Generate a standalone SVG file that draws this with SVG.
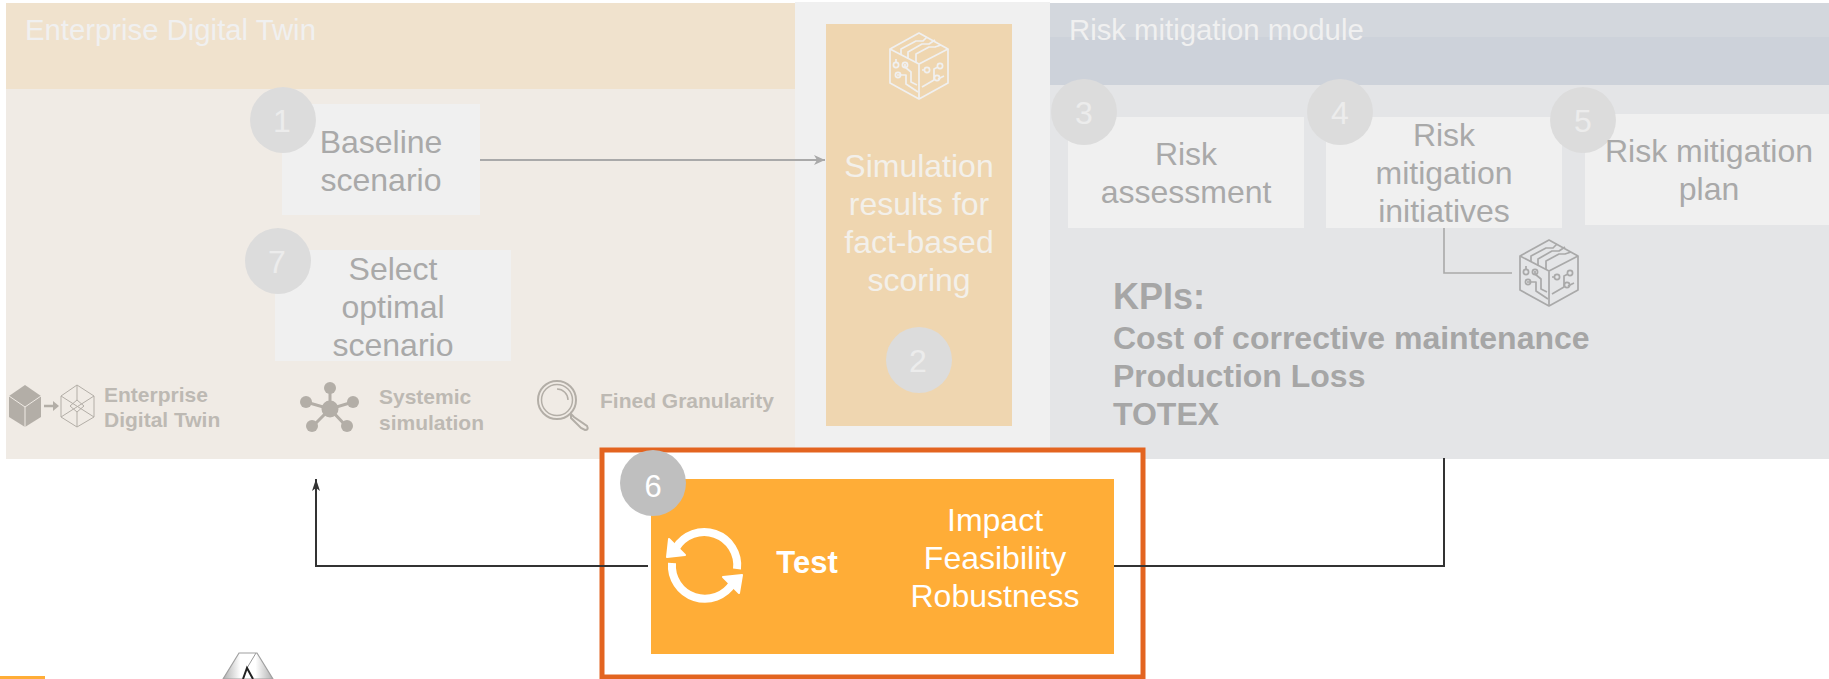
<svg xmlns="http://www.w3.org/2000/svg" width="1829" height="679" viewBox="0 0 1829 679">
<style>
text{font-family:"Liberation Sans",Arial,sans-serif}
.box{fill:#f0f0f0}
.num{fill:#dcdcdc}
.n{font-size:32px;fill:#ececec;text-anchor:middle}
.t{font-size:32px;fill:#a9a9a9;text-anchor:middle}
.s{font-size:32px;fill:#f3f0ea;text-anchor:middle}
.h{font-size:29.3px;fill:#f0f0f0}
.kpi{font-weight:bold;fill:#a6a6a6}
.leg{font-size:21px;font-weight:bold;fill:#bdb9b3}
.w{font-size:32px;fill:#fff;text-anchor:middle}
.ic{fill:none;stroke:#b3aea7}
</style>
<defs>
<marker id="ag" markerWidth="12" markerHeight="12" refX="11" refY="5" orient="auto" markerUnits="userSpaceOnUse"><path d="M0,0L11,5L0,10L3,5Z" fill="#a9a9a9"/></marker>
<marker id="ad" markerWidth="12" markerHeight="14" refX="12" refY="4" orient="auto" markerUnits="userSpaceOnUse"><path d="M0,0L12,4L0,8L3,4Z" fill="#333"/></marker>
<linearGradient id="lg" x1="0" y1="0" x2="1" y2="0"><stop offset="0" stop-color="#b0b0b0"/><stop offset=".35" stop-color="#fff"/><stop offset=".65" stop-color="#fff"/><stop offset="1" stop-color="#b0b0b0"/></linearGradient>
<symbol id="cube" viewBox="-30 -35 60 70" width="60" height="70" overflow="visible">
<g fill="none" stroke="currentColor" stroke-width="1.7" stroke-linejoin="round">
<path d="M0,-33L29,-17V17L0,33L-29,17V-17Z"/>
<path d="M-29,-17L0,-2L29,-17M0,-2V33"/>
<path d="M-18,-11V-17L-3,-25H4L8,-29M-11,-7V-14L3,-22H10L16,-26M-3,-3V-12L10,-19H16L22,-21"/>
<path d="M-23,-7V-3M-14,-2L-14,1L-8,6V16L-2,19M-22,9H-13L-13,18L-1,26"/>
<circle cx="-23" cy="-1" r="2.6"/><circle cx="-14" cy="-1" r="2.6"/><circle cx="-21" cy="9" r="2.6"/>
<path d="M3,4H6M3,21L15,14V3L19,1M19,13L25,10"/>
<circle cx="8" cy="4" r="2.6"/><circle cx="21" cy="0" r="2.6"/><circle cx="18" cy="12" r="2.6"/>
</g>
</symbol>
</defs>
<rect width="1829" height="679" fill="#fff"/>
<rect x="795" y="2" width="255" height="457" fill="#f0f0f0"/>

<g id="enterprise-panel">
<rect x="6" y="3" width="789" height="456" fill="#f0ebe5"/>
<rect x="6" y="3" width="789" height="86" fill="#f0e2cd"/>
<text class="h" x="25" y="40">Enterprise Digital Twin</text>
</g>
<g id="risk-panel">
<rect x="1050" y="3" width="779" height="456" fill="#e4e5e7"/>
<rect x="1050" y="3" width="779" height="82" fill="#cdd2da"/>
<rect x="1050" y="3" width="779" height="34" fill="#d3d7dd"/>
<text class="h" x="1069" y="40">Risk mitigation module</text>
</g>

<g id="connectors" fill="none">
<path d="M480,160H825" stroke="#a9a9a9" stroke-width="2" marker-end="url(#ag)"/>
<path d="M1444,228V273H1512" stroke="#a9a9a9" stroke-width="1.6"/>
</g>

<g id="node-1"><rect class="box" x="282" y="104" width="198" height="111"/><circle class="num" cx="283" cy="120" r="33"/><text class="n" x="282" y="132">1</text><text class="t" x="381" y="153">Baseline</text><text class="t" x="381" y="191">scenario</text></g>
<g id="node-7"><rect class="box" x="275" y="250" width="236" height="111"/><circle class="num" cx="278" cy="261" r="33"/><text class="n" x="277" y="273">7</text><text class="t" x="393" y="280">Select</text><text class="t" x="393" y="318">optimal</text><text class="t" x="393" y="356">scenario</text></g>
<g id="node-2"><rect x="826" y="24" width="186" height="402" fill="#efd6b0"/><use href="#cube" x="889" y="31" color="#f0f0f0"/><text class="s" x="919" y="177">Simulation</text><text class="s" x="919" y="215">results for</text><text class="s" x="919" y="253">fact-based</text><text class="s" x="919" y="291">scoring</text><circle class="num" cx="919" cy="360" r="33"/><text class="n" x="918" y="372">2</text></g>
<g id="node-3"><rect class="box" x="1068" y="117" width="236" height="111"/><circle class="num" cx="1084" cy="112" r="33"/><text class="n" x="1084" y="124">3</text><text class="t" x="1186" y="165">Risk</text><text class="t" x="1186" y="203">assessment</text></g>
<g id="node-4"><rect class="box" x="1326" y="117" width="236" height="111"/><circle class="num" cx="1340" cy="112" r="33"/><text class="n" x="1340" y="124">4</text><text class="t" x="1444" y="146">Risk</text><text class="t" x="1444" y="184">mitigation</text><text class="t" x="1444" y="222">initiatives</text></g>
<g id="node-5"><rect class="box" x="1585" y="114" width="244" height="111"/><circle class="num" cx="1583" cy="120" r="33"/><text class="n" x="1583" y="132">5</text><text class="t" x="1709" y="162">Risk mitigation</text><text class="t" x="1709" y="200">plan</text></g>
<g id="kpis"><use href="#cube" x="1519" y="238" color="#a9a9a9"/><text class="kpi" x="1113" y="309" font-size="36">KPIs:</text><text class="kpi" x="1113" y="349" font-size="32">Cost of corrective maintenance</text><text class="kpi" x="1113" y="387" font-size="32">Production Loss</text><text class="kpi" x="1113" y="425" font-size="32">TOTEX</text></g>

<g id="legend-twin">
<path d="M25,385L41,396V417L25,427L9,417V396Z" fill="#b3aea7"/>
<path d="M9,396L25,407L41,396M25,407V427" fill="none" stroke="#f0ebe5" stroke-width="1"/>
<path d="M44,406H55" stroke="#b3aea7" stroke-width="2.5"/><path d="M53,401L59,406L53,411Z" fill="#b3aea7"/>
<path class="ic" stroke-width="1" d="M77,385L94,396V417L77,427L61,417V396ZM61,396L94,417M94,396L61,417M77,385V400M77,412V427M77,400L84,406L77,412L70,406Z"/>
<text class="leg" x="104" y="402">Enterprise</text><text class="leg" x="104" y="427">Digital Twin</text>
</g>
<g id="legend-sim">
<path d="M330,387V409M306,402L330,409L353,402M312,427L330,409L347,427" fill="none" stroke="#b3aea7" stroke-width="3"/>
<circle cx="330" cy="409" r="8.5" fill="#b3aea7"/><circle cx="330" cy="388" r="6" fill="#b3aea7"/><circle cx="306" cy="402" r="6" fill="#b3aea7"/><circle cx="353" cy="402" r="6" fill="#b3aea7"/><circle cx="312" cy="426" r="6" fill="#b3aea7"/><circle cx="347" cy="426" r="6" fill="#b3aea7"/>
<text class="leg" x="379" y="404">Systemic</text><text class="leg" x="379" y="430">simulation</text>
</g>
<g id="legend-fine">
<circle class="ic" stroke-width="2" cx="557" cy="400" r="19"/><circle class="ic" stroke-width="1.5" cx="557" cy="400" r="15.5"/>
<path class="ic" stroke-width="1.5" d="M557,389A11,11 0 0 1 568,400"/>
<path class="ic" stroke-width="2" d="M571,414L574,417L587,426Q589,430 585,430L581,428L571,418Z"/>
<text class="leg" x="600" y="408">Fined Granularity</text>
</g>

<g id="node-6">
<rect x="602" y="450" width="541" height="227" fill="#fff" stroke="#e36420" stroke-width="5"/>
<rect x="651" y="479" width="463" height="175" fill="#ffad37"/>
<circle cx="653" cy="483" r="33" fill="#bfbfbf"/>
<text x="653" y="497" font-size="31" fill="#fff" text-anchor="middle">6</text>
<g fill="none" stroke="#fff" stroke-width="8">
<path d="M676,548A33,33 0 0 1 737,569"/>
<path d="M672,563A33,33 0 0 0 733,583"/>
</g>
<path d="M669,539L667,557L685,555Z M742,575L723,577L739,593Z" fill="#fff" stroke="#fff" stroke-width="2" stroke-linejoin="round"/>
<text x="807" y="573" font-size="31" font-weight="bold" fill="#fff" text-anchor="middle">Test</text>
<text class="w" x="995" y="531">Impact</text><text class="w" x="995" y="569">Feasibility</text><text class="w" x="995" y="607">Robustness</text>
</g>

<g id="feedback-connectors" fill="none" stroke="#333" stroke-width="2">
<path d="M648,566H316V479" marker-end="url(#ad)"/>
<path d="M1114,566H1444V458"/>
</g>

<rect id="stub" x="0" y="676" width="45" height="3" fill="#ffad37"/>
<g id="logo">
<path d="M223,679L239,653H257L273,679Z" fill="url(#lg)" stroke="#a0a0a0" stroke-width="1.2"/>
<path d="M256,653L247,668" fill="none" stroke="#999" stroke-width="1"/>
<path d="M243,679L247,668L253,679" fill="none" stroke="#222" stroke-width="2"/>
</g>
</svg>
